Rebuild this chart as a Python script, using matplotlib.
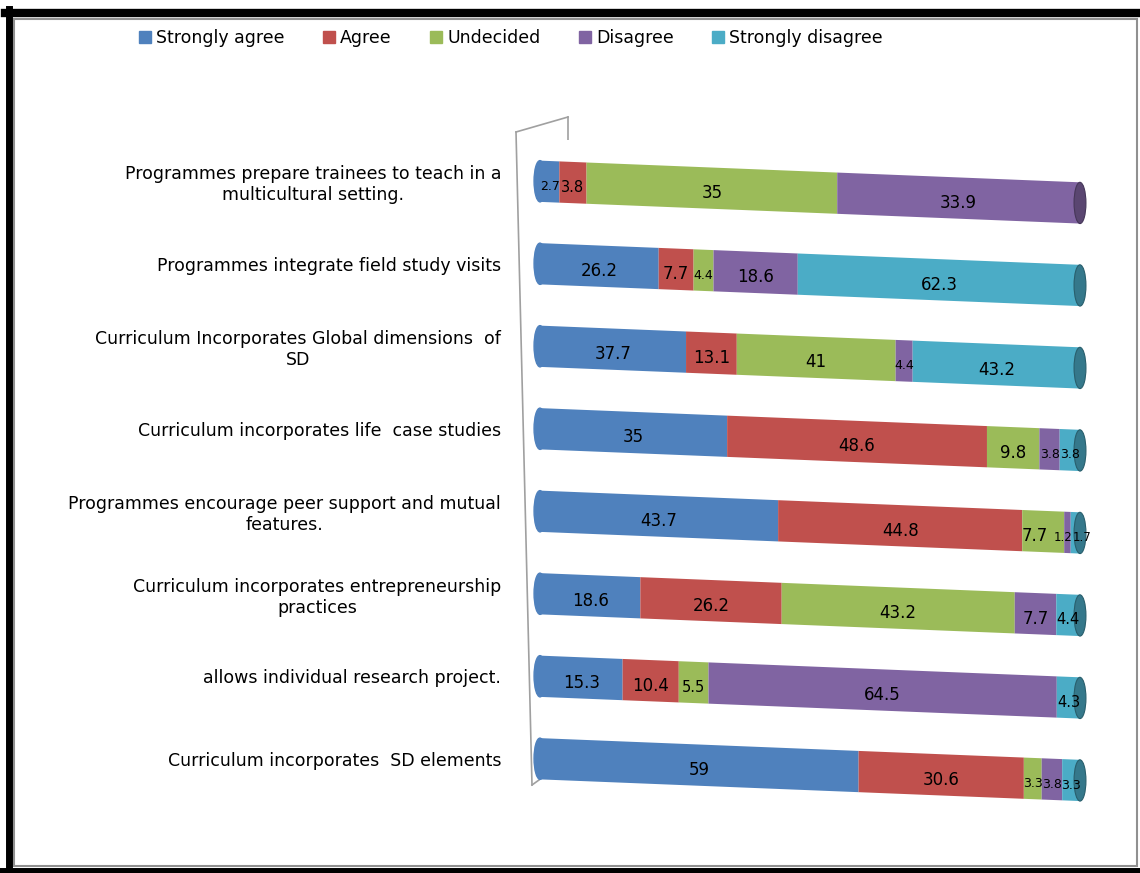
import matplotlib.pyplot as plt
import numpy as np
from matplotlib.transforms import Affine2D
from matplotlib.lines import Line2D
from matplotlib.patches import Rectangle, Patch, Ellipse
from matplotlib.colors import to_rgb

# Statements, top to bottom
statements = [
    "Programmes prepare trainees to teach in a\nmulticultural setting.",
    "Programmes integrate field study visits",
    "Curriculum Incorporates Global dimensions  of\nSD",
    "Curriculum incorporates life  case studies",
    "Programmes encourage peer support and mutual\nfeatures.",
    "Curriculum incorporates entrepreneurship\npractices",
    "allows individual research project.",
    "Curriculum incorporates  SD elements",
]
categories = ["Strongly agree", "Agree", "Undecided", "Disagree", "Strongly disagree"]
strongly_agree = [2.7, 26.2, 37.7, 35, 43.7, 18.6, 15.3, 59]
agree = [3.8, 7.7, 13.1, 48.6, 44.8, 26.2, 10.4, 30.6]
undecided = [35, 4.4, 41, 9.8, 7.7, 43.2, 5.5, 3.3]
disagree = [33.9, 18.6, 4.4, 3.8, 1.2, 7.7, 64.5, 3.8]
strongly_disagree = [0, 62.3, 43.2, 3.8, 1.7, 4.4, 4.3, 3.3]

colors = ["#4F81BD", "#C0504D", "#9BBB59", "#8064A2", "#4BACC6"]

series = np.array([strongly_agree, agree, undecided, disagree, strongly_disagree])
totals = series.sum(axis=0)
shares = series / totals * 100  # 100% stacked

W, H = 1140, 873
fig = plt.figure(figsize=(W / 100, H / 100), dpi=100)
ax = fig.add_axes([540 / W, 73 / H, 540 / W, 660 / H])

# slight downward tilt like the 3D chart
x0 = 540
tilt = Affine2D().translate(-x0, 0).skew_deg(0, -2.3).translate(x0, 0)
trans = ax.transData + tilt

def darker(c, f=0.7):
    return tuple(v * f for v in to_rgb(c))

y = np.arange(len(statements))
bh = 0.5
capw = 2.2  # width of the cylinder end ellipse, in % units

# left caps (bulging ends)
for j in range(len(statements)):
    first = next(i for i in range(len(categories)) if series[i, j] > 0)
    e = Ellipse((0, y[j]), capw, bh, color=colors[first], transform=trans,
                clip_on=False, zorder=1)
    ax.add_patch(e)

left = np.zeros(len(statements))
for i, cat in enumerate(categories):
    bars = ax.barh(y, shares[i], left=left, height=bh, color=colors[i],
                   edgecolor="none", label=cat, zorder=2)
    for b in bars:
        b.set_transform(trans)
        b.set_clip_on(False)
    left += shares[i]

# right caps
for j in range(len(statements)):
    last = max(i for i in range(len(categories)) if series[i, j] > 0)
    e = Ellipse((100, y[j]), capw, bh, facecolor=darker(colors[last]),
                edgecolor=darker(colors[last], 0.55), lw=0.8, transform=trans,
                clip_on=False, zorder=3)
    ax.add_patch(e)

# data labels (tiny slices pushed apart a little)
left = np.zeros(len(statements))
for i in range(len(categories)):
    for j in range(len(statements)):
        if series[i, j] > 0:
            sh = shares[i, j]
            fs = 12 if sh > 6 else (10.5 if sh > 3.9 else 9)
            dx = 0
            if sh < 2:
                fs = 8.5
                dx = -0.8 if i == 3 else 1.2
            elif i + 1 < len(categories) and 0 < shares[i + 1, j] < 2:
                dx = -1.5
            ax.text(left[j] + sh / 2 + dx, y[j] + 0.06, f"{series[i, j]:g}",
                    ha="center", va="center", fontsize=fs, color="black",
                    transform=trans, clip_on=False, zorder=4)
    left += shares[i]

ax.set_xlim(0, 100)
ax.set_ylim(len(statements) - 0.5, -0.5)
ax.set_xticks([])
ax.set_yticks(y)
ax.set_yticklabels(statements, fontsize=12.5, ha="right", multialignment="center")
ax.tick_params(axis="y", length=0, pad=28)
for s in ax.spines.values():
    s.set_visible(False)

# back wall outline
def px(xp, yp):
    return xp / W, 1 - yp / H

for a, b in [((516, 132), (532, 785)), ((516, 132), (568, 117)),
             ((568, 117), (568, 160)), ((532, 785), (578, 752))]:
    (xa, ya), (xb, yb) = px(*a), px(*b)
    fig.add_artist(Line2D([xa, xb], [ya, yb], color="#a0a0a0", lw=1.2,
                          transform=fig.transFigure, zorder=0))

handles = [Patch(color=c) for c in colors]
fig.legend(handles, categories, loc="center", bbox_to_anchor=(0.448, 1 - 38 / H),
           ncol=5, frameon=False, fontsize=12.5, handlelength=0.7, handleheight=0.7,
           handletextpad=0.3, columnspacing=2.2)

# outer borders
fig.add_artist(Rectangle(px(14, 866), 1123 / W, 847 / H, fill=False,
                         edgecolor="#909090", lw=1.5, transform=fig.transFigure))
fig.add_artist(Line2D([8.5 / W, 8.5 / W], [0, 1 - 9 / H], color="black", lw=5,
                      transform=fig.transFigure))
fig.add_artist(Line2D([5 / W, 1], [1 - 13 / H, 1 - 13 / H], color="black", lw=6,
                      transform=fig.transFigure))
fig.add_artist(Line2D([0, 1], [1 - 871 / H, 1 - 871 / H], color="black", lw=5,
                      transform=fig.transFigure))

fig.savefig("out.png", dpi=100)
